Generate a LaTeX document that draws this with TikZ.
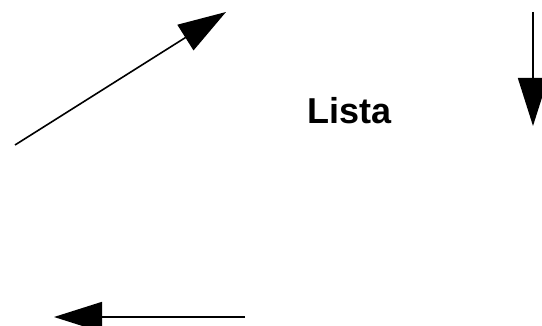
\documentclass[tikz,border=0pt]{standalone}
\usepackage{fontspec}
\setmainfont{Liberation Sans}
\usetikzlibrary{arrows.meta}
\tikzset{
  bigarrow/.style={line width=1.6pt,-{Triangle[length=48pt,width=30pt]}},
  labeltext/.style={inner sep=0pt,font=\fontsize{36}{43}\selectfont\bfseries}
}
\begin{document}
\begin{tikzpicture}[x=1pt,y=-1pt]
\useasboundingbox (0,0) rectangle (542,326);
\clip (0,0) rectangle (542,326);
\coordinate (a1s) at (15,145);
\coordinate (a1e) at (226,12);
\coordinate (a2s) at (533,12);
\coordinate (a2e) at (533,126);
\coordinate (a3s) at (245,317);
\coordinate (a3e) at (54,317);
\node[labeltext,anchor=base west] (lista) at (307.5,123.5) {Lista};
\draw[bigarrow] (a1s) -- (a1e);
\draw[bigarrow] (a2s) -- (a2e);
\draw[bigarrow] (a3s) -- (a3e);
\end{tikzpicture}
\end{document}
